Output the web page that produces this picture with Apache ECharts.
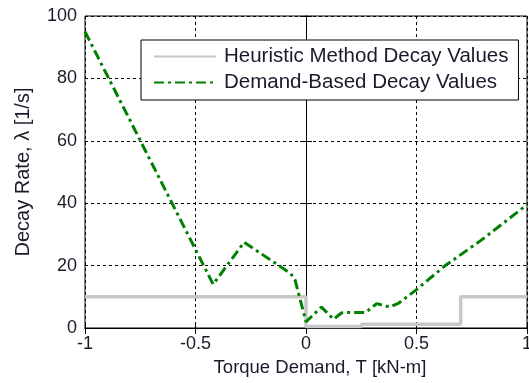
<!DOCTYPE html>
<html>
<head>
<meta charset="utf-8">
<script src="https://cdn.jsdelivr.net/npm/echarts@6/dist/echarts.min.js"></script>
<style>html,body{margin:0;padding:0;background:#fff}#c{width:529px;height:383px}</style>
</head>
<body>
<div id="c"></div>
<script>
const heuristicX = [-1, 0, 0, 0.25, 0.25, 0.7, 0.7, 1];
const heuristicY = [10, 10, 0.5, 0.5, 1.2, 1.2, 10, 10];
const demandX = [-1, -0.42, -0.28, -0.07, -0.05, 0, 0.07, 0.125, 0.16, 0.19, 0.27, 0.32, 0.38, 0.42, 0.5, 0.63, 0.79, 1];
const demandY = [95, 14, 27.5, 17.5, 15.5, 2, 6.7, 2.8, 4.8, 5, 5, 7.8, 6.7, 8, 12.3, 20, 28, 39.5];
const xTicks = {'-1':'-1','-0.5':'-0.5','0':'0','0.5':'0.5','1':'1'};
const names = ['Heuristic Method Decay Values', 'Demand-Based Decay Values'];
const xTitle = 'Torque Demand, T [kN-m]';
const yTitle = 'Decay Rate, \u03bb [1/s]';

const FONT = 'Liberation Sans';
const TXT = '#1a1a2a';
const chart = echarts.init(document.getElementById('c'), null, {renderer: 'canvas'});
const zip = (xs, ys) => xs.map((x, i) => [x, ys[i]]);
const splitLine = {show: true, lineStyle: {color: '#000', type: [3, 3], width: 1}};
chart.setOption({
  animation: false,
  textStyle: {fontFamily: FONT},
  grid: {left: 85, right: 2, top: 16, bottom: 55, show: true, borderColor: '#000', borderWidth: 1,
         outerBoundsMode: 'none', containLabel: false},
  legend: {
    orient: 'vertical', left: 141, top: 40,
    padding: [6, 10, 7, 12], itemGap: 5, itemWidth: 62, itemHeight: 14,
    backgroundColor: '#fff', borderColor: '#000', borderWidth: 1,
    itemStyle: {opacity: 0},
    textStyle: {fontFamily: FONT, fontSize: 20.5, color: TXT, padding: [0, 0, 0, 3]},
    data: names
  },
  xAxis: [{
    type: 'value', min: -1, max: 1, interval: 0.5,
    name: xTitle, nameLocation: 'middle', nameGap: 30,
    nameTextStyle: {fontFamily: FONT, fontSize: 18.5, color: TXT, padding: [0, 0, 0, 28]},
    axisLine: {show: true, lineStyle: {color: '#000'}},
    axisTick: {show: true, inside: true, length: 6, lineStyle: {color: '#000'}},
    axisLabel: {fontFamily: FONT, fontSize: 18, color: TXT, margin: 7, formatter: v => xTicks[String(v)] ?? String(v)},
    splitLine: splitLine
  }, {
    type: 'value', min: -1, max: 1, interval: 0.5, position: 'top',
    axisLine: {show: true, lineStyle: {color: '#000'}},
    axisTick: {show: true, inside: true, length: 6, lineStyle: {color: '#000'}},
    axisLabel: {show: false}, splitLine: {show: false}
  }],
  yAxis: [{
    type: 'value', min: 0, max: 100, interval: 20,
    name: yTitle, nameLocation: 'middle', nameGap: 52,
    nameTextStyle: {fontFamily: FONT, fontSize: 20, color: TXT},
    axisLine: {show: true, lineStyle: {color: '#000'}},
    axisTick: {show: true, inside: true, length: 6, lineStyle: {color: '#000'}},
    axisLabel: {fontFamily: FONT, fontSize: 18, color: TXT, margin: 8},
    splitLine: splitLine
  }, {
    type: 'value', min: 0, max: 100, interval: 20, position: 'right',
    axisLine: {show: true, lineStyle: {color: '#000'}},
    axisTick: {show: true, inside: true, length: 6, lineStyle: {color: '#000'}},
    axisLabel: {show: false}, splitLine: {show: false}
  }],
  series: [{
    name: names[0], type: 'line', symbol: 'none', showSymbol: false,
    data: zip(heuristicX, heuristicY), z: 3,
    itemStyle: {color: '#c8c8c8'},
    lineStyle: {color: '#c8c8c8', width: 3.5}
  }, {
    name: names[1], type: 'line', symbol: 'none', showSymbol: false,
    data: zip(demandX, demandY), z: 4,
    itemStyle: {color: '#008000'},
    lineStyle: {color: '#008000', width: 3, type: [10, 4, 3, 4]}
  }]
});
</script>
</body>
</html>
